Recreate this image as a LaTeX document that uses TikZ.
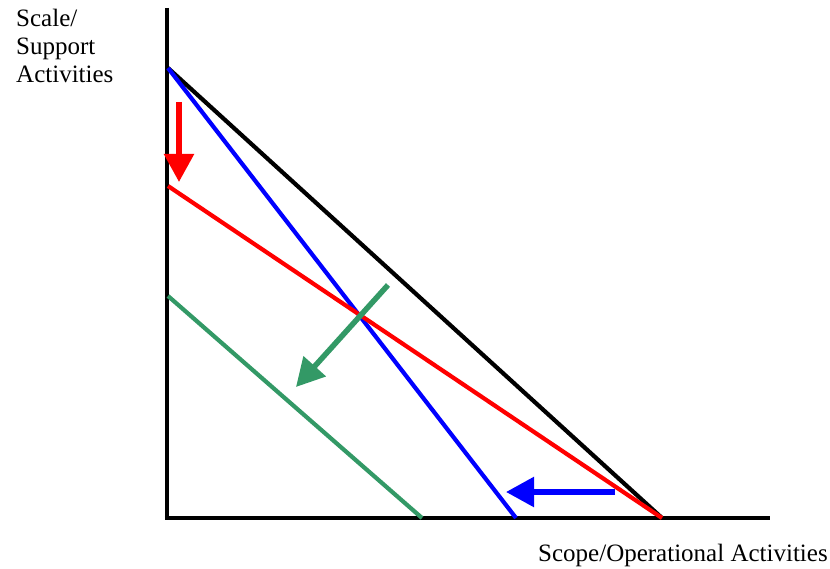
\documentclass[tikz,border=0pt]{standalone}
\usepackage{fontspec}
\setmainfont{Liberation Serif}
\usepackage{xcolor}
\usetikzlibrary{arrows.meta}

\definecolor{seagreen}{RGB}{51,153,102}

\begin{document}
\begin{tikzpicture}[
    x=1pt, y=-1pt,
    axis/.style={line width=4.5pt},
    curve/.style={line width=4.2pt},
    shift arrow/.style={
        line width=5.5pt,
        -{Triangle[length=28pt,width=29pt]}
    },
    label/.style={
        inner sep=0pt,
        align=left,
        font=\fontsize{25}{28}\selectfont
    }
]
\useasboundingbox (0,0) rectangle (830,569);

% axes
\coordinate (origin) at (167,518);
\coordinate (ytop) at (167,8);
\coordinate (xend) at (770,518);
\draw[axis] (ytop) -- (167,520.25);
\draw[axis] (164.75,518) -- (xend);

% frontier points
\coordinate (top) at (168,68);
\coordinate (redtop) at (168,186);
\coordinate (greentop) at (168,296);
\coordinate (right) at (662,518);
\coordinate (bluebot) at (516,518);
\coordinate (greenbot) at (422,518);

\draw[curve, black] (top) -- (right);
\draw[curve, blue] (top) -- (bluebot);
\draw[curve, red] (redtop) -- (right);
\draw[curve, seagreen] (greentop) -- (greenbot);

% shifts
\coordinate (ra) at (179,102);
\coordinate (rb) at (179,182);
\coordinate (ga) at (388,285);
\coordinate (gb) at (296,387);
\coordinate (ba) at (615,492);
\coordinate (bb) at (506,492);
\draw[shift arrow, red] (ra) -- (rb);
\draw[shift arrow, seagreen] (ga) -- (gb);
\draw[shift arrow, blue] (ba) -- (bb);

% labels
\node[label, anchor=base west] (scale) at (16,83) {Scale/\\Support\\Activities};
\node[label, anchor=base west] (scope) at (538,561) {Scope/Operational Activities};

\end{tikzpicture}
\end{document}
